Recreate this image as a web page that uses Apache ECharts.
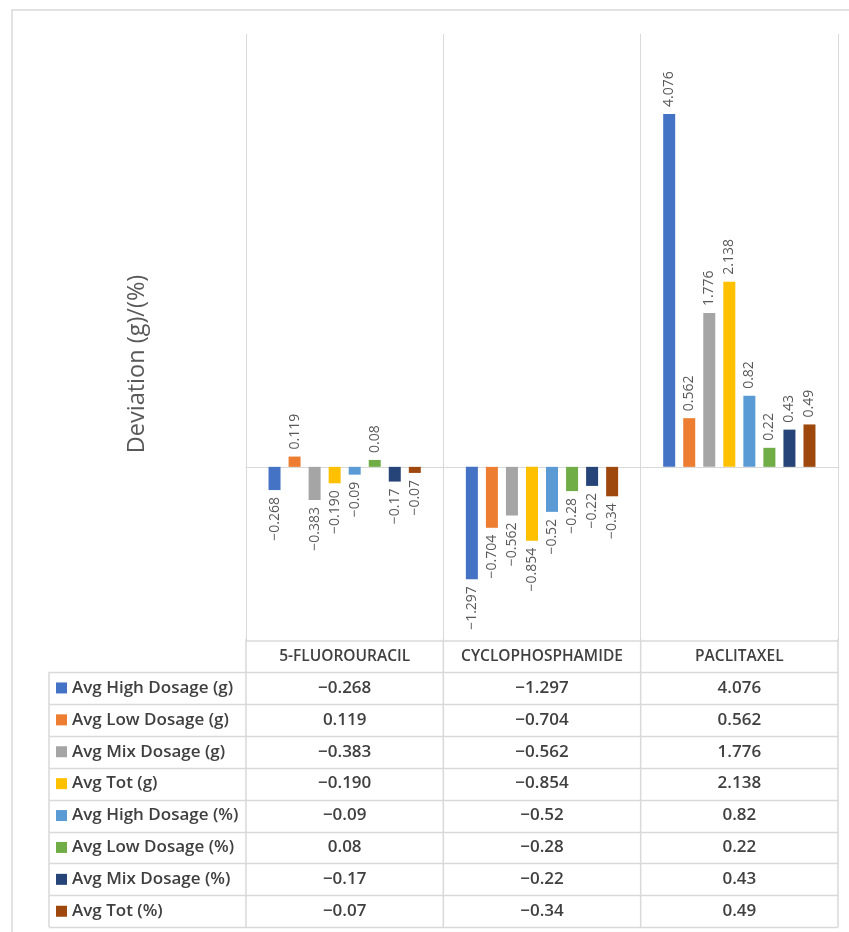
<!DOCTYPE html>
<html>
<head>
<meta charset="utf-8">
<script src="https://cdn.jsdelivr.net/npm/echarts@6/dist/echarts.min.js"></script>
<style>
  html, body { margin: 0; padding: 0; background: #fff; }
  #main { width: 849px; height: 932px; }
</style>
</head>
<body>
<div id="main"></div>
<script>
// categories (drugs)
var drugs = ['5-FLUOROURACIL', 'CYCLOPHOSPHAMIDE', 'PACLITAXEL'];
// series names
var seriesNames = ['Avg High Dosage (g)', 'Avg Low Dosage (g)', 'Avg Mix Dosage (g)', 'Avg Tot (g)',
                   'Avg High Dosage (%)', 'Avg Low Dosage (%)', 'Avg Mix Dosage (%)', 'Avg Tot (%)'];
// values, one array per series
var highG = [-0.268, -1.297, 4.076];
var lowG = [0.119, -0.704, 0.562];
var mixG = [-0.383, -0.562, 1.776];
var totG = [-0.190, -0.854, 2.138];
var highP = [-0.09, -0.52, 0.82];
var lowP = [0.08, -0.28, 0.22];
var mixP = [-0.17, -0.22, 0.43];
var totP = [-0.07, -0.34, 0.49];
var decimals = [3, 3, 3, 3, 2, 2, 2, 2];
var colors = ['#4472C4', '#ED7D31', '#A5A5A5', '#FFC000', '#5B9BD5', '#70AD47', '#264478', '#9E480E'];

var allValues = [highG, lowG, mixG, totG, highP, lowP, mixP, totP];
var FONT = '"Open Sans"';

function fmt(v, d) {
    var s = Math.abs(v).toFixed(d);
    return v < 0 ? '\u2212' + s : s;
}

var myChart = echarts.init(document.getElementById('main'));

var series = [];
for (var i = 0; i < allValues.length; i++) {
    (function (i) {
        series.push({
            name: seriesNames[i],
            type: 'bar',
            xAxisIndex: 0,
            barWidth: 12,
            barGap: '67%',
            itemStyle: { color: colors[i] },
            data: allValues[i].map(function (v) {
                return {
                    value: v,
                    label: {
                        show: true,
                        position: v >= 0 ? 'top' : 'bottom',
                        rotate: 90,
                        align: v >= 0 ? 'left' : 'right',
                        verticalAlign: 'middle',
                        distance: 7,
                        color: '#595959',
                        fontSize: 14,
                        fontFamily: FONT,
                        formatter: function () { return fmt(v, decimals[i]); }
                    }
                };
            })
        });
    })(i);
}

var option = {
    animation: false,
    textStyle: { fontFamily: FONT },
    grid: { left: 246, right: 11, top: 34, bottom: 292 },
    xAxis: [{
        type: 'category',
        data: drugs,
        axisLine: { onZero: true, lineStyle: { color: '#d9d9d9', width: 1 } },
        axisTick: { show: false },
        axisLabel: { show: false },
        splitLine: { show: true, interval: 0, lineStyle: { color: '#d9d9d9', width: 1 } }
    }, {
        type: 'category',
        data: drugs,
        position: 'bottom',
        axisLine: { show: false, onZero: false },
        axisTick: { show: false },
        axisLabel: { show: true, interval: 0, hideOverlap: false, margin: 9, color: '#404040', fontSize: 15.5, fontWeight: 600, fontFamily: FONT },
        splitLine: { show: false }
    }],
    yAxis: {
        type: 'value',
        min: -2,
        max: 5,
        interval: 1,
        axisLine: { show: false },
        axisTick: { show: false },
        axisLabel: { show: false },
        splitLine: { show: false }
    },
    series: series
};
myChart.setOption(option);

// data table under the chart, laid out from the category axis
var colX = drugs.map(function (d) { return myChart.convertToPixel({ xAxisIndex: 0 }, d); });
var plotLeft = 246, plotRight = 838, tableLeft = 49;
var headTop = 641, rowTop = 672, rowH = 31.9;
var lineColor = '#d9d9d9';
var graphics = [];

// outer border
graphics.push({ type: 'rect', shape: { x: 12, y: 10, width: 860, height: 940 },
    style: { fill: null, stroke: '#d9d9d9', lineWidth: 1.5 }, silent: true });

// axis title
graphics.push({ type: 'text', x: 137, y: 364, rotation: Math.PI / 2,
    style: { text: 'Deviation (g)/(%)', fill: '#595959', fontSize: 23.5, fontFamily: FONT, align: 'center', verticalAlign: 'middle' } });

var tableBottom = rowTop + rowH * seriesNames.length;
// horizontal lines
graphics.push({ type: 'line', shape: { x1: plotLeft, y1: headTop, x2: plotRight, y2: headTop }, style: { stroke: lineColor, lineWidth: 1.5 } });
for (var r = 0; r <= seriesNames.length; r++) {
    var yy = Math.round(rowTop + rowH * r) + 0.5;
    graphics.push({ type: 'line', shape: { x1: tableLeft, y1: yy, x2: plotRight, y2: yy }, style: { stroke: lineColor, lineWidth: 1.5 } });
}
// vertical lines
graphics.push({ type: 'line', shape: { x1: tableLeft, y1: rowTop, x2: tableLeft, y2: tableBottom }, style: { stroke: lineColor, lineWidth: 1.5 } });
var bounds = [plotLeft, (colX[0] + colX[1]) / 2, (colX[1] + colX[2]) / 2, plotRight];
bounds.forEach(function (bx) {
    graphics.push({ type: 'line', shape: { x1: bx, y1: headTop - 2, x2: bx, y2: tableBottom }, style: { stroke: lineColor, lineWidth: 1.5 } });
});

// rows
for (var s = 0; s < seriesNames.length; s++) {
    var cy = rowTop + rowH * s + rowH / 2;
    graphics.push({ type: 'rect', shape: { x: 56, y: cy - 5.5, width: 11, height: 11 }, style: { fill: colors[s] } });
    graphics.push({ type: 'text', x: 72, y: cy,
        style: { text: seriesNames[s], fill: '#404040', fontSize: 17, fontWeight: 600, fontFamily: FONT, verticalAlign: 'middle' } });
    for (var c = 0; c < drugs.length; c++) {
        graphics.push({ type: 'text', x: colX[c], y: cy,
            style: { text: fmt(allValues[s][c], decimals[s]), fill: '#404040', fontSize: 17, fontWeight: 600, fontFamily: FONT, align: 'center', verticalAlign: 'middle' } });
    }
}

myChart.setOption({ graphic: graphics });
</script>
</body>
</html>
